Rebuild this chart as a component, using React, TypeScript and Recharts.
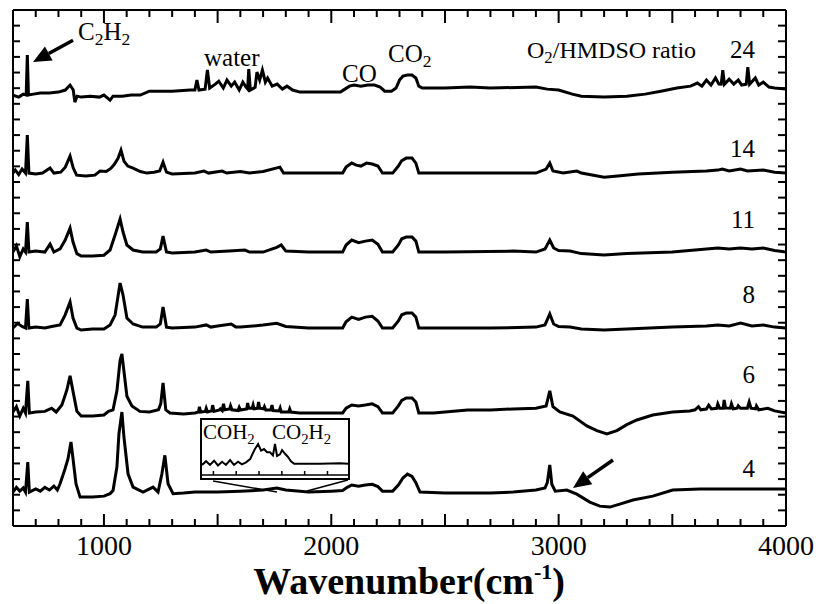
import React from 'react';
import { LineChart, Line, XAxis, YAxis, ReferenceLine } from 'recharts';

// O2/HMDSO ratio of each stacked spectrum, top to bottom, and its vertical offset (a.u.)
const ratios = [24, 14, 11, 8, 6, 4];
const offsets = [27.75, 22.57, 17.52, 12.66, 7.23, 2.17];
const ratioLabelY = [58, 157, 228, 303, 383, 477];

// [wavenumber cm-1, absorbance relative to the spectrum's own baseline]
const r24: [number, number][] = [
  [600, -0.19], [625, -0.32], [645, -0.13], [658, -0.19], [663, 2.37], [668, -0.19], [690, -0.13],
  [720, -0.06], [760, -0.06], [800, 0], [830, 0.13], [851, 0.45], [865, 0.13], [872, -0.64],
  [882, -0.26], [900, -0.32], [940, -0.26], [980, -0.32], [1000, -0.19], [1027, -0.51], [1040, -0.26],
  [1080, -0.26], [1120, -0.19], [1160, -0.19], [1200, 0.06], [1250, 0.06], [1300, 0.06], [1380, 0.13],
  [1400, 0.13], [1409, 0.77], [1418, 0.13], [1445, 0.19], [1455, 1.41], [1465, 0.26], [1490, 0.51],
  [1505, 0.7], [1525, 0.26], [1541, 0.77], [1560, 0.38], [1575, 0.64], [1595, 0.13], [1611, 0.64],
  [1625, 0.32], [1632, 0.2], [1637, 1.47], [1644, 0.13], [1665, 0.3], [1673, 1.28], [1685, 0.77],
  [1697, 1.41], [1710, 0.64], [1720, 0.9], [1740, 0.38], [1762, 0.51], [1785, 0.19], [1805, 0.38],
  [1830, 0.13], [1862, 0], [1950, 0], [2040, 0], [2060, 0.19], [2080, 0.38], [2100, 0.45],
  [2130, 0.38], [2160, 0.45], [2190, 0.45], [2215, 0.32], [2235, 0.06], [2265, 0.06], [2285, 0.26],
  [2300, 0.77], [2315, 1.02], [2335, 1.09], [2355, 1.09], [2372, 0.9], [2385, 0.38], [2400, 0.26],
  [2500, 0.26], [2610, 0.32], [2700, 0.26], [2900, 0.32], [2950, 0.19], [3000, 0.13], [3060, -0.13],
  [3100, -0.26], [3200, -0.32], [3300, -0.26], [3380, -0.13], [3450, 0.06], [3520, 0.26], [3580, 0.38],
  [3610, 0.58], [3630, 0.38], [3650, 0.77], [3670, 0.45], [3690, 0.9], [3705, 0.51], [3715, 0.5],
  [3722, 1.41], [3729, 0.5], [3750, 0.83], [3770, 0.51], [3790, 0.77], [3805, 0.45], [3825, 0.5],
  [3832, 1.6], [3840, 0.5], [3865, 0.9], [3880, 0.45], [3900, 0.64], [3925, 0.32], [3950, 0.26],
  [4000, 0.19],
];

const r14: [number, number][] = [
  [600, 0], [610, 0.2], [625, -0.1], [640, 0.26], [655, 0], [663, 2.43], [670, 0], [700, -0.06],
  [730, 0], [763, 0.32], [780, 0], [810, 0.06], [830, 0.38], [851, 1.09], [865, 0.32], [880, -0.13],
  [920, -0.19], [960, -0.13], [983, 0.13], [1010, 0.1], [1030, 0.3], [1045, 0.55], [1062, 0.95],
  [1075, 1.47], [1088, 0.77], [1105, 0.45], [1128, 0.32], [1160, 0.1], [1189, 0], [1220, 0.06],
  [1245, 0.13], [1260, 0.7], [1275, 0.06], [1300, -0.06], [1400, 0], [1440, 0.13], [1460, 0],
  [1520, 0.13], [1540, 0], [1600, 0.1], [1640, 0], [1700, 0.1], [1774, 0.38], [1790, 0], [1900, 0],
  [2050, 0], [2065, 0.38], [2090, 0.64], [2110, 0.51], [2130, 0.45], [2155, 0.64], [2180, 0.58],
  [2205, 0.45], [2225, 0], [2270, 0], [2295, 0.45], [2310, 0.8], [2330, 0.96], [2355, 0.96],
  [2372, 0.64], [2385, 0], [2500, 0], [2700, 0], [2900, 0], [2945, 0.26], [2961, 0.64], [2975, 0.13],
  [3020, 0], [3080, 0.13], [3100, 0], [3200, -0.26], [3260, -0.19], [3350, -0.06], [3500, 0.06],
  [3650, 0.13], [3700, 0.19], [3720, 0.26], [3750, 0.13], [3800, 0.26], [3830, 0.13], [3900, 0.19],
  [3950, 0.06], [4000, 0],
];

const r11: [number, number][] = [
  [600, 0], [615, 0.4], [630, -0.3], [645, 0.2], [655, 0], [663, 1.92], [670, 0], [700, 0.06],
  [740, 0], [763, 0.51], [780, 0], [807, 0.2], [829, 0.75], [851, 1.53], [864, 0.64], [881, -0.1],
  [900, -0.26], [950, -0.26], [1000, -0.2], [1027, 0.13], [1049, 1.09], [1071, 2.11], [1084, 1.28],
  [1101, 0.45], [1128, 0.13], [1170, 0], [1230, 0], [1248, 0.2], [1260, 1.02], [1275, 0],
  [1300, -0.06], [1400, 0], [1450, 0.13], [1470, 0], [1550, 0.06], [1620, 0.13], [1640, 0],
  [1700, 0], [1760, 0.3], [1780, 0.45], [1800, 0.06], [1900, 0], [2050, 0], [2065, 0.45],
  [2090, 0.77], [2120, 0.6], [2150, 0.7], [2180, 0.77], [2205, 0.5], [2225, 0], [2270, 0],
  [2295, 0.45], [2310, 0.85], [2330, 0.96], [2355, 0.96], [2372, 0.7], [2385, 0], [2500, 0],
  [2800, 0.06], [2900, 0], [2940, 0.2], [2961, 0.77], [2978, 0.26], [3000, 0.1], [3050, 0.06],
  [3100, -0.1], [3200, -0.19], [3300, -0.1], [3500, 0], [3650, 0.19], [3700, 0.26], [3750, 0.19],
  [3800, 0.26], [3850, 0.2], [3900, 0.26], [3950, 0.1], [4000, 0],
];

const r8: [number, number][] = [
  [600, 0], [620, 0.3], [640, 0.1], [655, 0], [663, 1.85], [670, 0], [700, 0.06], [740, 0],
  [770, 0.1], [807, 0.2], [829, 0.83], [851, 1.66], [864, 0.64], [881, 0], [900, -0.13], [950, -0.06],
  [1000, -0.06], [1027, 0.2], [1049, 0.83], [1071, 2.88], [1084, 2.11], [1101, 0.64], [1128, 0.26],
  [1170, 0.06], [1230, 0.06], [1248, 0.26], [1260, 1.34], [1275, 0.06], [1300, 0], [1400, 0.06],
  [1450, 0.2], [1470, 0.06], [1500, 0.13], [1560, 0.26], [1580, 0.06], [1600, 0.06], [1700, 0.19],
  [1760, 0.3], [1800, 0.1], [1900, 0], [2050, 0], [2065, 0.4], [2090, 0.7], [2120, 0.55],
  [2150, 0.7], [2180, 0.75], [2205, 0.45], [2225, 0], [2270, 0], [2295, 0.45], [2310, 0.85],
  [2330, 0.96], [2355, 0.96], [2372, 0.7], [2385, 0], [2500, 0], [2700, 0], [2900, 0.06],
  [2940, 0.2], [2961, 0.9], [2978, 0.26], [3000, 0.1], [3050, 0.06], [3100, -0.06], [3200, -0.13],
  [3300, -0.06], [3500, 0.06], [3650, 0.13], [3700, 0.19], [3750, 0.13], [3800, 0.32], [3850, 0.13],
  [3900, 0.2], [3950, 0.06], [4000, 0],
];

const r6: [number, number][] = [
  [600, 0.06], [615, 0.4], [630, -0.2], [645, 0.3], [655, 0], [665, 2.05], [672, 0], [700, 0.06],
  [740, 0.1], [770, 0.3], [790, 0.06], [815, 0.51], [837, 1.47], [851, 2.37], [864, 1.38], [881, 0.1],
  [900, -0.19], [950, -0.19], [1000, -0.13], [1020, 0.1], [1040, 0.2], [1057, 1.41], [1071, 3.37],
  [1079, 3.77], [1088, 2.67], [1101, 1.07], [1123, 0.45], [1158, 0.1], [1200, 0.06], [1240, 0.2],
  [1250, 0.6], [1260, 1.92], [1272, 0.2], [1290, 0], [1350, -0.06], [1400, 0], [1416, 0.06],
  [1420, 0.4], [1425, 0.06], [1446, 0.1], [1450, 0.3], [1456, 0.06], [1474, 0.13], [1478, 0.5],
  [1484, 0.1], [1508, 0.2], [1512, 0.26], [1520, 0.15], [1526, 0.58], [1531, 0.2], [1553, 0.25],
  [1557, 0.45], [1563, 0.2], [1590, 0.15], [1595, 0.35], [1600, 0.19], [1628, 0.25], [1632, 0.64],
  [1637, 0.3], [1652, 0.3], [1656, 0.5], [1660, 0.26], [1676, 0.3], [1680, 0.7], [1685, 0.3],
  [1702, 0.26], [1706, 0.4], [1712, 0.19], [1734, 0.2], [1739, 0.5], [1744, 0.15], [1770, 0.13],
  [1775, 0.32], [1780, 0.06], [1812, 0.06], [1817, 0.26], [1822, 0.06], [1860, 0], [1950, 0],
  [2050, 0], [2065, 0.3], [2090, 0.51], [2120, 0.45], [2150, 0.51], [2180, 0.58], [2205, 0.4],
  [2225, 0], [2270, 0], [2295, 0.45], [2310, 0.8], [2330, 0.96], [2355, 0.96], [2372, 0.7],
  [2385, 0], [2450, 0], [2500, 0.06], [2600, 0.19], [2700, 0.19], [2800, 0.26], [2900, 0.3],
  [2945, 0.45], [2961, 1.41], [2975, 0.4], [3005, 0.06], [3063, -0.2], [3124, -0.83], [3168, -1.13],
  [3212, -1.34], [3256, -1.13], [3300, -0.75], [3344, -0.45], [3414, -0.13], [3502, 0.06],
  [3577, 0.13], [3600, 0.2], [3615, 0.4], [3625, 0.2], [3650, 0.25], [3660, 0.5], [3672, 0.26],
  [3695, 0.3], [3700, 0.58], [3708, 0.3], [3724, 0.3], [3728, 0.83], [3734, 0.32], [3755, 0.3],
  [3760, 0.58], [3768, 0.26], [3785, 0.3], [3790, 0.45], [3800, 0.3], [3830, 0.3], [3838, 0.7],
  [3846, 0.3], [3866, 0.26], [3870, 0.45], [3880, 0.2], [3920, 0.3], [3950, 0.13], [4000, 0],
];

const r4: [number, number][] = [
  [600, 0], [615, 0.3], [630, 0.06], [645, 0.26], [655, 0], [665, 1.92], [672, 0], [700, 0.2],
  [720, 0.06], [740, 0.3], [760, 0.13], [780, 0.38], [795, 0.13], [807, 0.53], [829, 1.49],
  [842, 2.13], [855, 3.2], [864, 2.13], [877, 0.53], [895, -0.32], [950, -0.32], [1000, -0.26],
  [1027, -0.1], [1040, 0.1], [1057, 1.6], [1066, 3.73], [1079, 5.12], [1088, 3.52], [1106, 1.17],
  [1128, 0.32], [1172, 0], [1216, 0.32], [1238, 0], [1255, 1.17], [1268, 2.35], [1282, 0.53],
  [1304, -0.1], [1350, -0.06], [1400, 0], [1500, 0], [1600, 0.06], [1700, 0.13], [1760, 0.26],
  [1800, 0.13], [1900, 0], [2000, 0.06], [2050, 0.1], [2070, 0.3], [2090, 0.45], [2120, 0.38],
  [2150, 0.45], [2180, 0.5], [2205, 0.35], [2225, 0.06], [2270, 0.06], [2295, 0.45], [2315, 0.9],
  [2335, 1.15], [2355, 1.0], [2372, 0.6], [2390, 0], [2500, -0.06], [2700, -0.06], [2800, 0],
  [2900, 0.13], [2940, 0.26], [2950, 0.6], [2961, 1.73], [2970, 0.5], [2985, 0.06], [3036, 0.13],
  [3080, -0.13], [3137, -0.64], [3181, -0.9], [3225, -0.96], [3269, -0.77], [3327, -0.51],
  [3414, -0.26], [3502, 0.13], [3621, 0.19], [3800, 0.19], [4000, 0.19],
];

const spectra = [r24, r14, r11, r8, r6, r4];

// magnified 1500-2140 cm-1 region shown in the inset
const insetCurve: [number, number][] = [
  [1500, 1.9], [1518, 2.6], [1535, 1.9], [1553, 2.7], [1570, 1.8], [1588, 2.5], [1605, 1.9],
  [1623, 2.8], [1640, 1.9], [1658, 2.5], [1675, 2.0], [1693, 2.4], [1711, 3.0], [1724, 4.2],
  [1732, 4.9], [1746, 5.85], [1759, 4.6], [1772, 4.9], [1785, 4.3], [1798, 4.3], [1811, 3.7],
  [1820, 5.85], [1829, 3.6], [1842, 3.9], [1851, 4.7], [1864, 4.0], [1877, 3.4], [1890, 2.6],
  [1904, 2.1], [1930, 2.1], [2018, 2.1], [2105, 2.2], [2140, 2.1],
];
const insetTicks = [1550, 1650, 1750, 1850, 1950, 2050];

const xLabels = [1000, 2000, 3000, 4000];
const xTicks = Array.from({ length: 35 }, (_, i) => 600 + i * 100);
const yTicks = Array.from({ length: 33 }, (_, i) => i + 1);

// annotation arrows and the inset's guide lines, in data coordinates
const arrows = [
  [{ x: 864, y: 31.07 }, { x: 688, y: 29.67 }],
  [{ x: 3239, y: 4.22 }, { x: 3063, y: 2.43 }],
];
const guides = [
  [{ x: 1480, y: 2.88 }, { x: 1761, y: 2.17 }],
  [{ x: 2073, y: 2.94 }, { x: 1893, y: 2.24 }],
];

const FONT = 'Liberation Serif, Times New Roman, serif';

const BottomTick = ({ x, y, payload }: any) => {
  const v = payload.value;
  return (
    <g>
      <line x1={x} y1={y} x2={x} y2={y - (v % 500 === 0 ? 12 : 7)} stroke="#000" strokeWidth={2} />
      {xLabels.includes(v) && (
        <text
          x={x}
          y={y + 29}
          textAnchor="middle"
          fill="#000"
          fontFamily="Liberation Serif"
          fontSize={28}
          style={{ fontFamily: 'Liberation Serif', fontSize: 28 }}
        >
          {String(v)}
        </text>
      )}
    </g>
  );
};

const TopTick = ({ x, y, payload }: any) => (
  <line x1={x} y1={y} x2={x} y2={y + (payload.value % 500 === 0 ? 13 : 7)} stroke="#000" strokeWidth={2} />
);

const LeftTick = ({ x, y }: any) => <line x1={x} y1={y} x2={x + 7} y2={y} stroke="#000" strokeWidth={2} />;
const RightTick = ({ x, y }: any) => <line x1={x} y1={y} x2={x - 8} y2={y} stroke="#000" strokeWidth={2} />;
const InsetTick = ({ x, y }: any) => <line x1={x} y1={y} x2={x} y2={y - 4} stroke="#000" strokeWidth={1.5} />;

const arrowShape = (p: any) => {
  const { x1, y1, x2, y2 } = p;
  const len = Math.hypot(x2 - x1, y2 - y1);
  const ux = (x2 - x1) / len;
  const uy = (y2 - y1) / len;
  const bx = x2 - ux * 18;
  const by = y2 - uy * 18;
  return (
    <g>
      <line x1={x1} y1={y1} x2={bx} y2={by} stroke="#000" strokeWidth={3.5} />
      <polygon points={`${x2},${y2} ${bx - uy * 8},${by + ux * 8} ${bx + uy * 8},${by - ux * 8}`} fill="#000" />
    </g>
  );
};

const Sub = ({ children }: { children: string }) => (
  <tspan fontSize="70%" dy={5}>
    {children}
  </tspan>
);

const axisLine = { stroke: '#000', strokeWidth: 2 };

export default function App() {
  const series = spectra.map((s, i) => s.map(([wn, a]) => ({ wn, v: offsets[i] + a })));
  const inset = insetCurve.map(([wn, v]) => ({ wn, v }));

  return (
    <div style={{ position: 'absolute', left: 0, top: 0, width: 819, height: 604, background: '#fff', fontFamily: FONT }}>
      <LineChart width={819} height={604} margin={{ top: 9, right: 32, bottom: 77, left: 12 }}>
        <XAxis
          xAxisId="b"
          dataKey="wn"
          type="number"
          domain={[600, 4000]}
          allowDataOverflow
          ticks={xTicks}
          interval={0}
          height={1}
          tickSize={0}
          tickMargin={0}
          tickLine={false}
          tick={<BottomTick />}
          axisLine={axisLine}
        />
        <XAxis
          xAxisId="t"
          orientation="top"
          dataKey="wn"
          type="number"
          domain={[600, 4000]}
          allowDataOverflow
          ticks={xTicks}
          interval={0}
          height={1}
          tickSize={0}
          tickMargin={0}
          tickLine={false}
          tick={<TopTick />}
          axisLine={axisLine}
        />
        <YAxis
          yAxisId="l"
          type="number"
          domain={[0, 33]}
          allowDataOverflow
          ticks={yTicks}
          interval={0}
          width={1}
          tickSize={0}
          tickMargin={0}
          tickLine={false}
          tick={<LeftTick />}
          axisLine={axisLine}
        />
        <YAxis
          yAxisId="r"
          orientation="right"
          type="number"
          domain={[0, 33]}
          allowDataOverflow
          ticks={yTicks}
          interval={0}
          width={1}
          tickSize={0}
          tickMargin={0}
          tickLine={false}
          tick={<RightTick />}
          axisLine={axisLine}
        />
        {series.map((d, i) => (
          <Line
            key={ratios[i]}
            data={d}
            dataKey="v"
            xAxisId="b"
            yAxisId="l"
            type="linear"
            stroke="#000"
            strokeWidth={3}
            dot={false}
            isAnimationActive={false}
          />
        ))}
        {guides.map((seg, i) => (
          <ReferenceLine key={`g${i}`} xAxisId="b" yAxisId="l" segment={seg} stroke="#000" strokeWidth={1.5} />
        ))}
        {arrows.map((seg, i) => (
          <ReferenceLine key={`a${i}`} xAxisId="b" yAxisId="l" segment={seg} shape={arrowShape} />
        ))}
      </LineChart>

      <div
        style={{
          position: 'absolute',
          left: 200,
          top: 418,
          width: 150,
          height: 62,
          border: '2px solid #000',
          boxSizing: 'border-box',
          background: '#fff',
        }}
      >
        <LineChart width={146} height={58} data={inset} margin={{ top: 2, right: 0, bottom: 2, left: 0 }}>
          <XAxis
            dataKey="wn"
            type="number"
            domain={[1500, 2140]}
            ticks={insetTicks}
            interval={0}
            height={1}
            tickSize={0}
            tickMargin={0}
            tickLine={false}
            tick={<InsetTick />}
            axisLine={{ stroke: '#000', strokeWidth: 1.5 }}
          />
          <YAxis hide domain={[0, 10]} />
          <Line dataKey="v" type="linear" stroke="#000" strokeWidth={2} dot={false} isAnimationActive={false} />
        </LineChart>
      </div>

      <svg width={819} height={604} style={{ position: 'absolute', left: 0, top: 0, pointerEvents: 'none' }} fontFamily={FONT} fill="#000">
        <text x={78} y={40} fontSize={25}>
          C<Sub>2</Sub>
          <tspan dy={-5}>H</tspan>
          <Sub>2</Sub>
        </text>
        <text x={204} y={66} fontSize={25}>water</text>
        <text x={342} y={82} fontSize={25}>CO</text>
        <text x={388} y={62} fontSize={25}>
          CO<Sub>2</Sub>
        </text>
        <text x={527} y={58} fontSize={24}>
          O<Sub>2</Sub>
          <tspan dy={-5}>/HMDSO ratio</tspan>
        </text>
        {ratioLabelY.map((yy, i) => (
          <text key={ratios[i]} x={755} y={yy} fontSize={25} textAnchor="end">
            {ratios[i]}
          </text>
        ))}
        <text x={203} y={439} fontSize={21}>
          COH<Sub>2</Sub>
        </text>
        <text x={272} y={439} fontSize={21}>
          CO<Sub>2</Sub>
          <tspan dy={-5}>H</tspan>
          <Sub>2</Sub>
        </text>
        <text x={565} y={594} fontSize={38} fontWeight="bold" textAnchor="end">
          Wavenumber(cm
          <tspan fontSize={22} dy={-15}>-1</tspan>
          <tspan dy={15}>)</tspan>
        </text>
      </svg>
    </div>
  );
}
